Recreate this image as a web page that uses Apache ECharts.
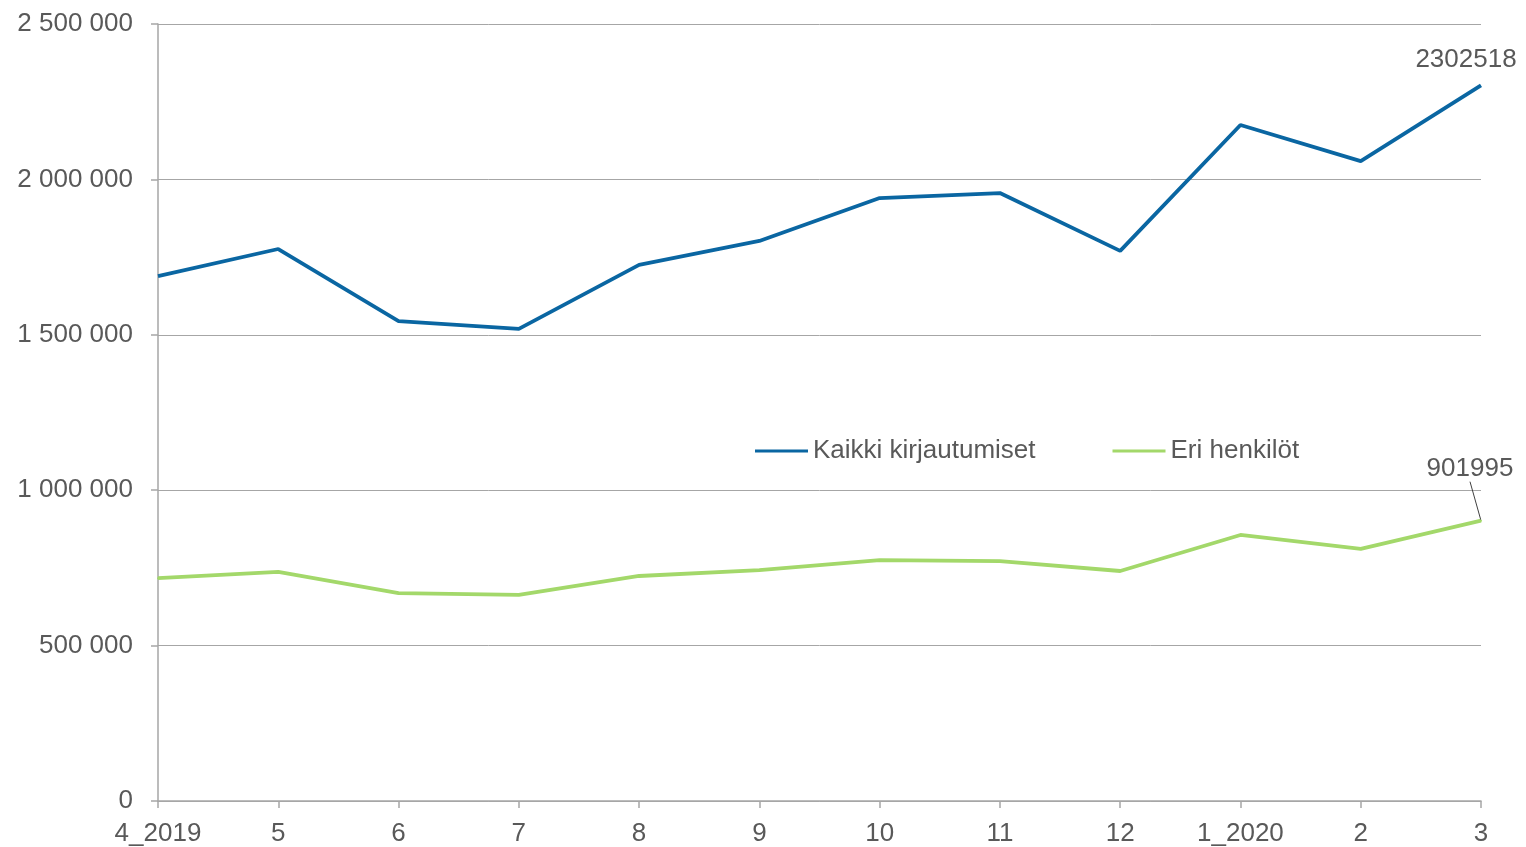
<!DOCTYPE html>
<html>
<head>
<meta charset="utf-8">
<script src="https://cdn.jsdelivr.net/npm/echarts@6/dist/echarts.min.js"></script>
<style>
  html, body { margin: 0; padding: 0; background: #fff; }
  #main { width: 1526px; height: 847px; }
</style>
</head>
<body>
<div id="main"></div>
<script>
var months = ['4_2019', '5', '6', '7', '8', '9', '10', '11', '12', '1_2020', '2', '3'];
var kaikki = [1689000, 1776000, 1544000, 1519000, 1725000, 1802000, 1940000, 1956000, 1770000, 2175000, 2059000, 2302518];
var eri = [717000, 737000, 669000, 663000, 724000, 743000, 775000, 772000, 740000, 856000, 811000, 901995];
var yTicks = [0, 500000, 1000000, 1500000, 2000000, 2500000];

var textColor = '#595959';
var fontFamily = '"Liberation Sans", Arial, sans-serif';
var fs = 26;

// only the last point gets a label
function lastLabeled(arr) {
    return arr.map(function (v, i) {
        return i === arr.length - 1 ? { value: v, label: { show: true } } : v;
    });
}

var myChart = echarts.init(document.getElementById('main'));

var option = {
    animation: false,
    textStyle: { fontFamily: fontFamily },
    grid: { left: 158, right: 45, top: 24, bottom: 46 },
    legend: {
        left: 750,
        top: 433,
        itemWidth: 53,
        itemHeight: 3,
        itemGap: 77,
        icon: 'rect',
        textStyle: { fontSize: fs, color: textColor, fontFamily: fontFamily },
        data: ['Kaikki kirjautumiset', 'Eri henkilöt']
    },
    xAxis: {
        type: 'category',
        boundaryGap: false,
        data: months,
        axisLine: { lineStyle: { color: '#a6a6a6', width: 1.5 } },
        axisTick: { show: true, length: 7, lineStyle: { color: '#a6a6a6', width: 1.5 } },
        axisLabel: { fontSize: fs, color: textColor, margin: 20, fontFamily: fontFamily }
    },
    yAxis: {
        type: 'value',
        min: yTicks[0],
        max: yTicks[yTicks.length - 1],
        interval: yTicks[1] - yTicks[0],
        axisLine: { show: true, lineStyle: { color: '#a6a6a6', width: 1.5 } },
        axisTick: { show: true, length: 7, lineStyle: { color: '#a6a6a6', width: 1.5 } },
        splitLine: { lineStyle: { color: '#a6a6a6', width: 1 } },
        axisLabel: {
            fontSize: fs,
            color: textColor,
            margin: 25,
            fontFamily: fontFamily,
            formatter: function (v) {
                return String(v).replace(/\B(?=(\d{3})+(?!\d))/g, ' ');
            }
        }
    },
    series: [
        {
            name: 'Kaikki kirjautumiset',
            type: 'line',
            data: lastLabeled(kaikki),
            symbol: 'circle',
            symbolSize: 0,
            showSymbol: true,
            lineStyle: { color: '#0a66a2', width: 3.8 },
            itemStyle: { color: '#0a66a2' },
            label: {
                show: false,
                position: 'top',
                fontSize: fs,
                color: textColor,
                fontFamily: fontFamily,
                offset: [-15, -8]
            }
        },
        {
            name: 'Eri henkilöt',
            type: 'line',
            data: lastLabeled(eri),
            symbol: 'circle',
            symbolSize: 2,
            showSymbol: true,
            lineStyle: { color: '#a3d86a', width: 3.8 },
            itemStyle: { color: '#a3d86a' },
            label: {
                show: false,
                position: 'top',
                fontSize: fs,
                color: textColor,
                fontFamily: fontFamily
            },
            labelLine: { show: true, lineStyle: { color: '#404040', width: 1 } },
            labelLayout: { dx: -11, dy: -33 }
        }
    ]
};

myChart.setOption(option);
</script>
</body>
</html>
